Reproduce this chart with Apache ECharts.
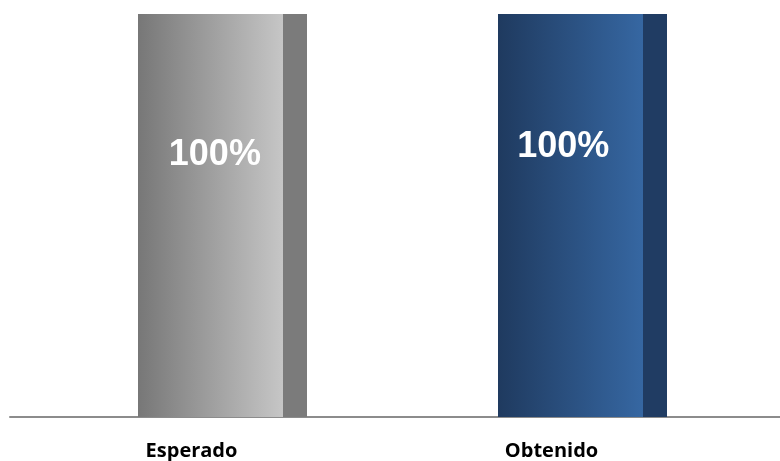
<!DOCTYPE html>
<html>
<head>
<meta charset="utf-8">
<script src="https://cdn.jsdelivr.net/npm/echarts@6/dist/echarts.min.js"></script>
<style>
  html, body { margin: 0; padding: 0; background: #ffffff; }
  #chart { width: 780px; height: 461px; }
</style>
</head>
<body>
<div id="chart"></div>
<script>
// Categories and values
const categories = ['Esperado', 'Obtenido'];
const values = [100, 100];
const valueLabels = ['100%', '100%'];

// Bar face gradients (left -> right) and the darker side strip
const faceLeft = ['#777777', '#1f3a5f'];
const faceRight = ['#c6c6c6', '#3667a2'];
const sideColors = ['#7b7b7b', '#203c63'];

// Label placement inside each bar face
const labelPos = [['53%', '35%'], ['45%', '33%']];

const valueFont = {
  color: '#ffffff',
  fontFamily: '"Liberation Sans", Arial, sans-serif',
  fontWeight: 'bold',
  fontSize: 36,
  align: 'center',
  verticalAlign: 'middle'
};

const chart = echarts.init(document.getElementById('chart'));

const faceData = values.map((v, i) => ({
  value: v,
  itemStyle: {
    color: new echarts.graphic.LinearGradient(0, 0, 1, 0, [
      { offset: 0, color: faceLeft[i] },
      { offset: 1, color: faceRight[i] }
    ])
  },
  label: Object.assign({
    show: true,
    formatter: valueLabels[i],
    position: labelPos[i]
  }, valueFont)
}));

const sideData = values.map((v, i) => ({
  value: v,
  itemStyle: { color: sideColors[i] }
}));

chart.setOption({
  animation: false,
  grid: [
    { left: 42.5, width: 720, top: 14, bottom: 44 },
    { left: 10, right: 0, top: 14, bottom: 44 }
  ],
  xAxis: [
    {
      type: 'category',
      gridIndex: 0,
      data: categories,
      axisLine: { show: false },
      axisTick: { show: false },
      axisLabel: {
        margin: 24,
        padding: [0, 62, 0, 0],
        fontFamily: '"Open Sans"',
        fontWeight: 'bold',
        fontSize: 20,
        color: '#000000'
      }
    },
    {
      type: 'value',
      gridIndex: 1,
      min: 0,
      max: 1,
      axisLine: { show: true, lineStyle: { color: '#8c8c8c', width: 2 } },
      axisTick: { show: false },
      axisLabel: { show: false },
      splitLine: { show: false }
    }
  ],
  yAxis: [
    { type: 'value', gridIndex: 0, min: 0, max: 100, show: false },
    { type: 'value', gridIndex: 1, min: 0, max: 1, show: false }
  ],
  series: [
    {
      type: 'bar',
      xAxisIndex: 0,
      yAxisIndex: 0,
      barWidth: 145,
      barGap: '0%',
      data: faceData,
      label: Object.assign({ show: true }, valueFont)
    },
    {
      type: 'bar',
      xAxisIndex: 0,
      yAxisIndex: 0,
      barWidth: 24,
      barGap: '0%',
      data: sideData
    }
  ]
});
</script>
</body>
</html>
